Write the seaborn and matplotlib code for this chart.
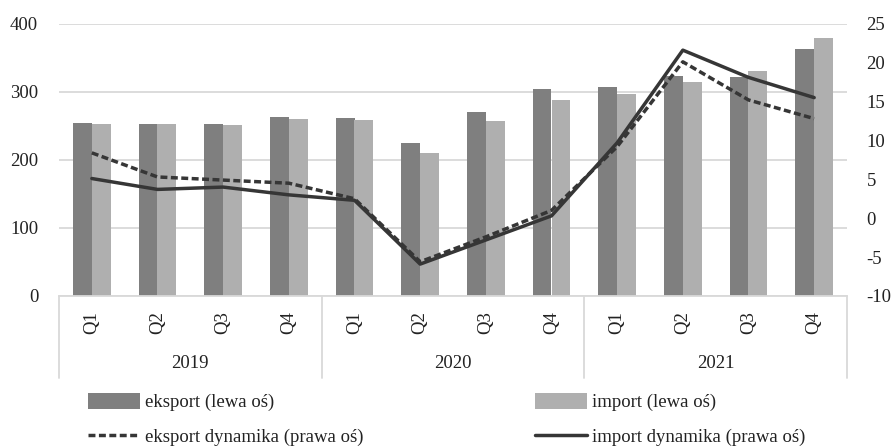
import numpy as np
import pandas as pd
import matplotlib
matplotlib.use("Agg")
import matplotlib.pyplot as plt
import matplotlib.transforms as mtransforms
from matplotlib.patches import Patch
from matplotlib.lines import Line2D
import seaborn as sns

# ---- data ----
years = ["2019", "2020", "2021"]
quarters = ["Q1", "Q2", "Q3", "Q4"]
periods = [f"{y} {q}" for y in years for q in quarters]
eksport = [254, 252.5, 252, 263.5, 262, 224.5, 270, 304, 307, 323.5, 322, 363.5]
import_ = [253, 252.5, 251, 260.5, 259, 210.5, 257, 287.5, 296.5, 314.5, 331, 379.5]
eksport_dyn = [8.4, 5.3, 4.9, 4.5, 2.5, -5.6, -2.4, 1.0, 9.2, 20.1, 15.2, 12.8]
import_dyn = [5.1, 3.7, 4.0, 3.0, 2.3, -5.9, -2.8, 0.3, 9.7, 21.6, 18.1, 15.5]

labels = ["eksport (lewa oś)", "import (lewa oś)",
          "eksport dynamika (prawa oś)", "import dynamika (prawa oś)"]

c_exp = "#7f7f7f"
c_imp = "#afafaf"
c_line = "#363636"
c_grid = "#d9d9d9"

sns.set_style("white")
plt.rcParams["font.family"] = ["Liberation Serif", "DejaVu Serif"]
FS = 13.5

W, H = 895, 446
fig = plt.figure(figsize=(W / 100, H / 100), dpi=100)
left, right, top, bottom = 59, 847, 23.7, 296
ax = fig.add_axes([left / W, 1 - bottom / H, (right - left) / W, (bottom - top) / H])

df = pd.DataFrame({
    "okres": periods * 2,
    "wartosc": eksport + import_,
    "seria": [labels[0]] * len(periods) + [labels[1]] * len(periods),
})
sns.barplot(data=df, x="okres", y="wartosc", hue="seria", order=periods,
            hue_order=labels[:2], palette=[c_exp, c_imp], saturation=1,
            width=0.57, linewidth=0, legend=False, ax=ax, zorder=2)

ax.set_xlim(-0.5, len(periods) - 0.5)
ax.set_ylim(0, 400)
ax.set_yticks([0, 100, 200, 300, 400])
ax.set_yticklabels(["0", "100", "200", "300", "400"], fontsize=FS, color="#222222")
ax.tick_params(axis="y", length=0, pad=15)
ax.yaxis.grid(True, color=c_grid, linewidth=1.3, zorder=0)
ax.set_axisbelow(True)
for s in ["top", "right", "left"]:
    ax.spines[s].set_visible(False)
ax.spines["bottom"].set_color(c_grid)
ax.spines["bottom"].set_linewidth(1.3)
ax.set_xlabel("")
ax.set_ylabel("")
ax.set_xticks(range(len(periods)))
ax.set_xticklabels(quarters * len(years), rotation=90, fontsize=FS, color="#222222")
ax.tick_params(axis="x", length=0, pad=11)

# category box separators and year labels
trans = mtransforms.blended_transform_factory(ax.transData, ax.transAxes)
box_h = (378 - 296) / (bottom - top)
for i in range(len(years) + 1):
    ax.plot([i * 4 - 0.5, i * 4 - 0.5], [0, -box_h], transform=trans,
            color=c_grid, linewidth=1.3, clip_on=False)
year_y = -(363 - 296) / (bottom - top)
for i, y in enumerate(years):
    ax.text(i * 4 + 1.5, year_y, y, transform=trans, ha="center", va="center",
            fontsize=FS, color="#222222")

# right axis with lines
ax2 = ax.twinx()
xs = np.arange(len(periods))
sns.lineplot(x=xs, y=eksport_dyn, ax=ax2, color=c_line, linewidth=2.5,
             linestyle=(0, (2.0, 1.0)), zorder=3)
sns.lineplot(x=xs, y=import_dyn, ax=ax2, color=c_line, linewidth=2.5, zorder=3)
ax2.set_ylim(-10, 25)
ax2.set_yticks(list(range(-10, 30, 5)))
ax2.set_yticklabels([str(v) for v in range(-10, 30, 5)], fontsize=FS, color="#222222")
ax2.tick_params(axis="y", length=0, pad=14)
for s in ax2.spines.values():
    s.set_visible(False)
ax2.set_xlim(-0.5, len(periods) - 0.5)
ax2.set_ylabel("")

# legend: two columns placed separately
h_exp = Patch(facecolor=c_exp, edgecolor="none")
h_imp = Patch(facecolor=c_imp, edgecolor="none")
h_edyn = Line2D([], [], color=c_line, linewidth=2.5, linestyle=(0, (2.0, 1.0)))
h_idyn = Line2D([], [], color=c_line, linewidth=2.5)
common = dict(frameon=False, fontsize=FS, handlelength=2.8, handleheight=0.9,
              handletextpad=0.25, labelspacing=0.9, borderpad=0, borderaxespad=0,
              loc="upper left")
leg1 = fig.legend([h_exp, h_edyn], [labels[0], labels[2]],
                  bbox_to_anchor=(88 / W, 1 - 393 / H), **common)
leg2 = fig.legend([h_imp, h_idyn], [labels[1], labels[3]],
                  bbox_to_anchor=(535 / W, 1 - 393 / H), **common)
for leg in (leg1, leg2):
    for t in leg.get_texts():
        t.set_color("#222222")

fig.savefig("out.png", dpi=100)
